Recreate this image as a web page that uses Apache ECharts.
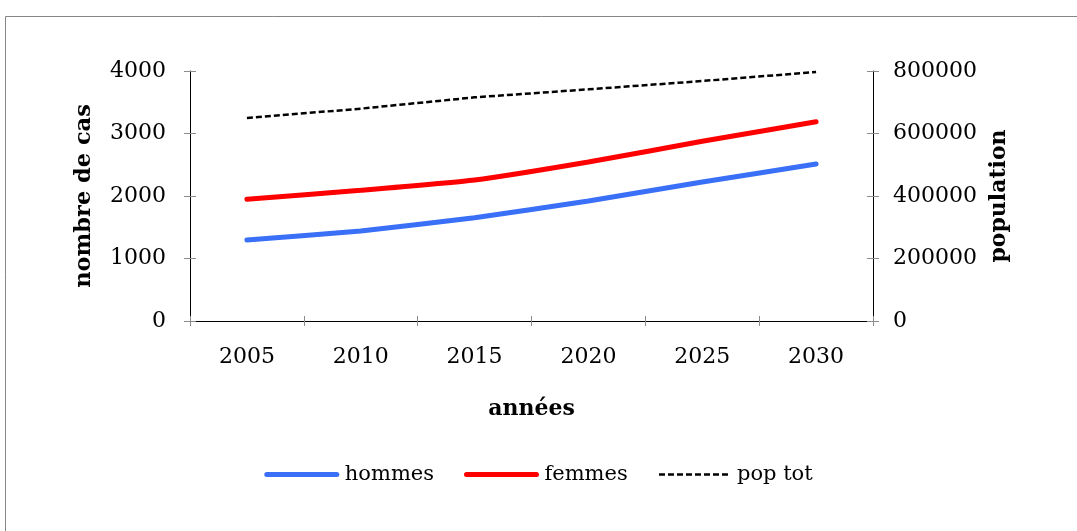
<!DOCTYPE html>
<html>
<head>
<meta charset="utf-8">
<script src="https://cdn.jsdelivr.net/npm/echarts@6/dist/echarts.min.js"></script>
<style>html,body{margin:0;padding:0;background:#fff;}#c{width:1077px;height:531px;}</style>
</head>
<body>
<div id="c"></div>
<script>
const years = ['2005', '2010', '2015', '2020', '2025', '2030'];
const hommes = [1296, 1440, 1653, 1920, 2224, 2512];
const femmes = [1947, 2091, 2256, 2544, 2875, 3189];
const popTot = [649600, 679500, 715700, 741300, 768000, 796800];

const serif = '"DejaVu Serif", serif';
const chart = echarts.init(document.getElementById('c'), null, {renderer: 'canvas'});
const tickGray = '#8c8c8c';
const plain = v => String(v);
chart.setOption({
  animation: false,
  backgroundColor: '#fff',
  graphic: [{
    type: 'rect', shape: {x: 5.5, y: 16.5, width: 1200, height: 700},
    style: {fill: 'none', stroke: '#868686', lineWidth: 1}, z: -10
  }],
  grid: {left: 190, right: 204, top: 71, bottom: 210},
  legend: {
    bottom: 41, left: 'center', itemGap: 30, itemWidth: 70, itemHeight: 14,
    textStyle: {fontFamily: serif, fontSize: 21, color: '#000', padding: [0, 0, 0, 3]},
    itemStyle: {opacity: 0},
    data: [
      {name: 'hommes', lineStyle: {width: 5, color: '#3a6ff7', cap: 'round'}},
      {name: 'femmes', lineStyle: {width: 5, color: '#ff0000', cap: 'round'}},
      {name: 'pop tot', lineStyle: {width: 2.5, color: '#000', type: [6, 3]}}
    ]
  },
  xAxis: [{
    type: 'category', data: years, boundaryGap: true,
    name: 'années', nameLocation: 'middle', nameGap: 77,
    nameTextStyle: {fontFamily: serif, fontSize: 22, fontWeight: 'bold', color: '#000'},
    axisLine: {lineStyle: {color: '#000', width: 1}},
    axisTick: {show: true, length: 5, lineStyle: {color: tickGray}},
    axisLabel: {fontFamily: serif, fontSize: 22, color: '#000', margin: 25}
  }, {
    type: 'category', data: years, boundaryGap: true, position: 'bottom',
    axisLine: {show: false},
    axisTick: {show: true, inside: true, length: 5, lineStyle: {color: tickGray}},
    axisLabel: {show: false}
  }],
  yAxis: [{
    type: 'value', min: 0, max: 4000, interval: 1000, position: 'left',
    name: 'nombre de cas', nameLocation: 'middle', nameGap: 94,
    nameTextStyle: {fontFamily: serif, fontSize: 22.5, fontWeight: 'bold', color: '#000'},
    axisLine: {show: true, lineStyle: {color: '#000', width: 1}},
    axisTick: {show: true, length: 6, lineStyle: {color: tickGray}},
    axisLabel: {fontFamily: serif, fontSize: 22, color: '#000', margin: 24, formatter: plain},
    splitLine: {show: false}
  }, {
    type: 'value', min: 0, max: 800000, interval: 200000, position: 'right',
    name: 'population', nameLocation: 'middle', nameGap: 112, nameRotate: 90,
    nameTextStyle: {fontFamily: serif, fontSize: 22, fontWeight: 'bold', color: '#000'},
    axisLine: {show: true, lineStyle: {color: '#000', width: 1}},
    axisTick: {show: true, length: 6, lineStyle: {color: tickGray}},
    axisLabel: {fontFamily: serif, fontSize: 22, color: '#000', margin: 20, formatter: plain},
    splitLine: {show: false}
  }, {
    type: 'value', min: 0, max: 4000, interval: 1000, position: 'left',
    axisLine: {show: false}, axisLabel: {show: false}, splitLine: {show: false},
    axisTick: {show: true, inside: true, length: 6, lineStyle: {color: tickGray}}
  }, {
    type: 'value', min: 0, max: 800000, interval: 200000, position: 'right',
    axisLine: {show: false}, axisLabel: {show: false}, splitLine: {show: false},
    axisTick: {show: true, inside: true, length: 6, lineStyle: {color: tickGray}}
  }],
  series: [{
    name: 'hommes', type: 'line', data: hommes, yAxisIndex: 0,
    symbol: 'none', smooth: 0.15, color: '#3a6ff7',
    lineStyle: {color: '#3a6ff7', width: 5, cap: 'round'}
  }, {
    name: 'femmes', type: 'line', data: femmes, yAxisIndex: 0,
    symbol: 'none', smooth: 0.15, color: '#ff0000',
    lineStyle: {color: '#ff0000', width: 5, cap: 'round'}
  }, {
    name: 'pop tot', type: 'line', data: popTot, yAxisIndex: 1,
    symbol: 'none', color: '#000',
    lineStyle: {color: '#000', width: 2.5, type: [6, 3]}
  }]
});
</script>
</body>
</html>
